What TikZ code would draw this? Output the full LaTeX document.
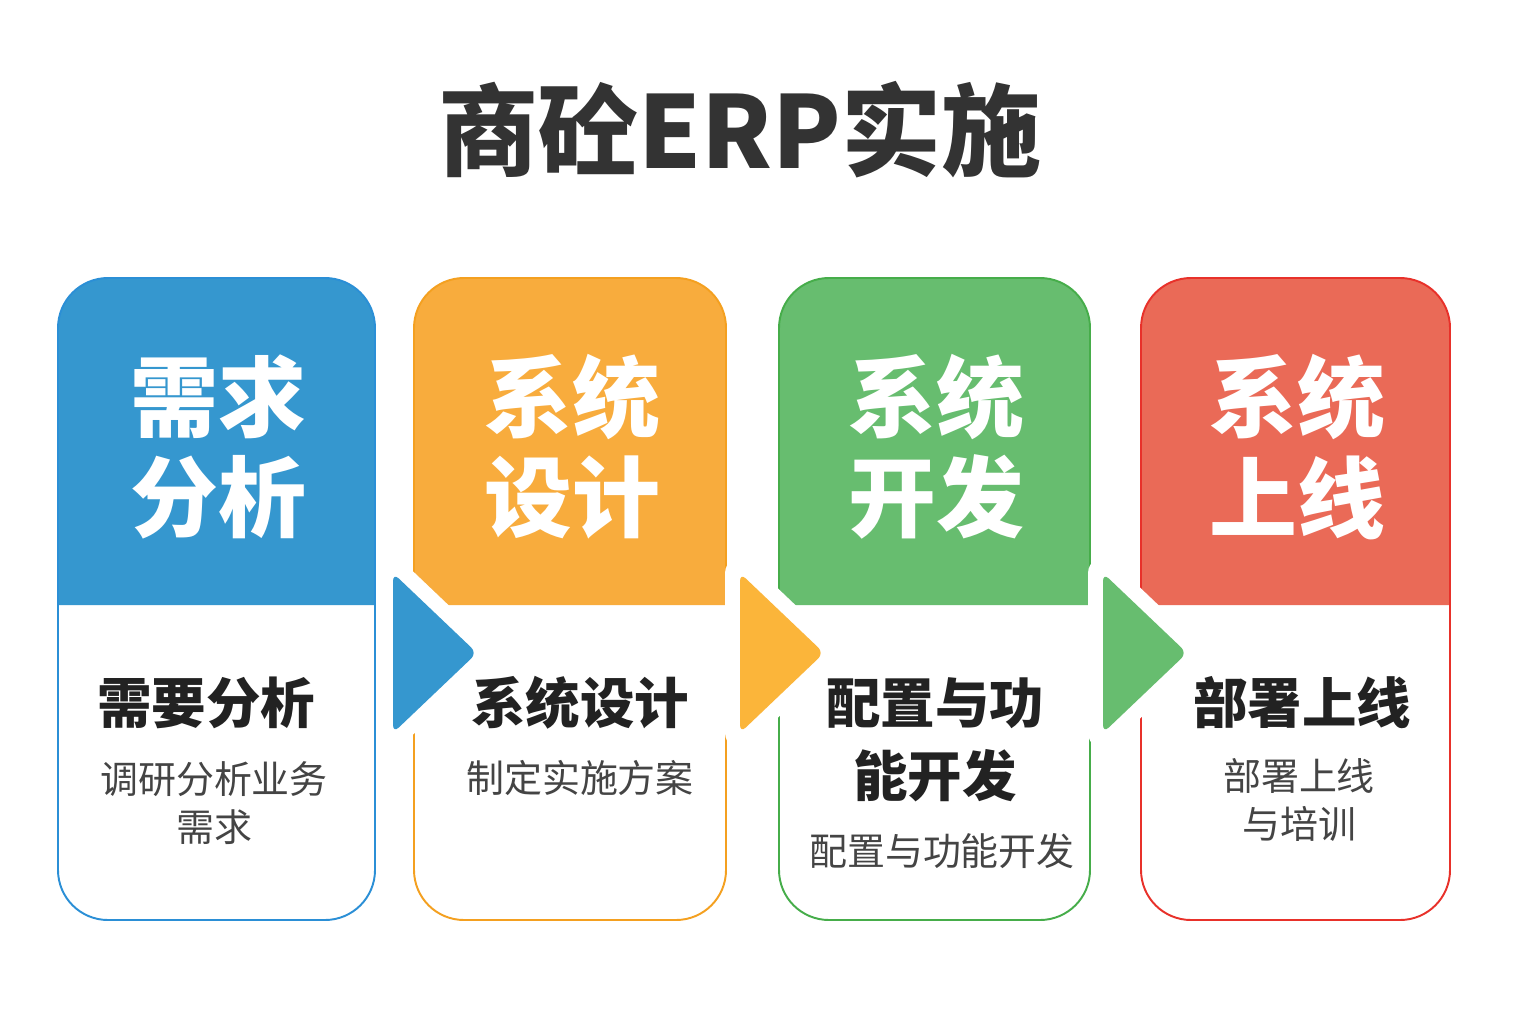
\documentclass[tikz,border=0pt]{standalone}
\usepackage{fontspec}
\setmainfont{Noto Sans CJK SC}
\definecolor{reqblue}{HTML}{3597CF}
\definecolor{desorange}{HTML}{F8AC3D}
\definecolor{devgreen}{HTML}{67BD6F}
\definecolor{golred}{HTML}{EA6A57}
\definecolor{reqline}{HTML}{2B8FD6}
\definecolor{desline}{HTML}{F4A020}
\definecolor{devline}{HTML}{46AD4A}
\definecolor{golline}{HTML}{E8312A}
\definecolor{arrowyellow}{HTML}{FBB53A}
\definecolor{titlegray}{HTML}{333333}
\definecolor{textgray}{HTML}{222222}
\definecolor{subgray}{HTML}{444444}
\tikzset{
    headtext/.style={text=white,align=center,font=\bfseries\fontsize{25}{28.5}\selectfont},
    steptext/.style={text=textgray,align=center,font=\bfseries\fontsize{15.5}{20.8}\selectfont},
    desctext/.style={text=subgray,align=center,font=\fontsize{10.8}{13.7}\selectfont},
}
\begin{document}
\begin{tikzpicture}
    \useasboundingbox[fill=white](0,0) rectangle (15.36,10.24);
    \node[text=titlegray,font=\bfseries\fontsize{28.5}{32}\selectfont] (title) at (7.40,8.94) {商砼ERP实施};
    % cards: left/right/fill/border/head text
    \foreach \l/\r/\c/\b/\hd [count=\i] in {0.58/3.75/reqblue/reqline/需求\\分析,
        4.14/7.26/desorange/desline/系统\\设计,
        7.79/10.90/devgreen/devline/系统\\开发,
        11.41/14.50/golred/golline/系统\\上线}
    {
        \fill[\c](\l,4.19)[rounded corners=0.5cm]--(\l,7.46)--(\r,7.46)[sharp corners]--(\r,4.19)--cycle;
        \draw[\b,line width=0.55pt,rounded corners=0.5cm](\l,1.04) rectangle (\r,7.46);
        \node[headtext] (head\i) at ({(\l+\r)/2+0.02},5.77) {\hd};
    }
    % arrows between the cards
    \foreach \x/\c in {3.93/reqblue,7.40/arrowyellow,11.03/devgreen}
    {
        \draw[white,line width=0.3cm,line join=round](\x,4.51)--(\x+0.84,3.71)--(\x,2.91)--cycle;
        \fill[\c,rounded corners=0.08cm](\x,4.51)--(\x+0.84,3.71)--(\x,2.91)--cycle;
    }
    \node[steptext] (step1) at (2.06,3.21) {需要分析};
    \node[desctext,anchor=north] (desc1) at (2.14,2.75) {调研分析业务\\需求};
    \node[steptext] (step2) at (5.80,3.21) {系统设计};
    \node[desctext] (desc2) at (5.80,2.46) {制定实施方案};
    \node[steptext,anchor=north] (step3) at (9.35,3.59) {配置与功\\能开发};
    \node[desctext] (desc3) at (9.42,1.73) {配置与功能开发};
    \node[steptext] (step4) at (13.02,3.21) {部署上线};
    \node[desctext,anchor=north] (desc4) at (12.99,2.78) {部署上线\\与培训};
\end{tikzpicture}
\end{document}
